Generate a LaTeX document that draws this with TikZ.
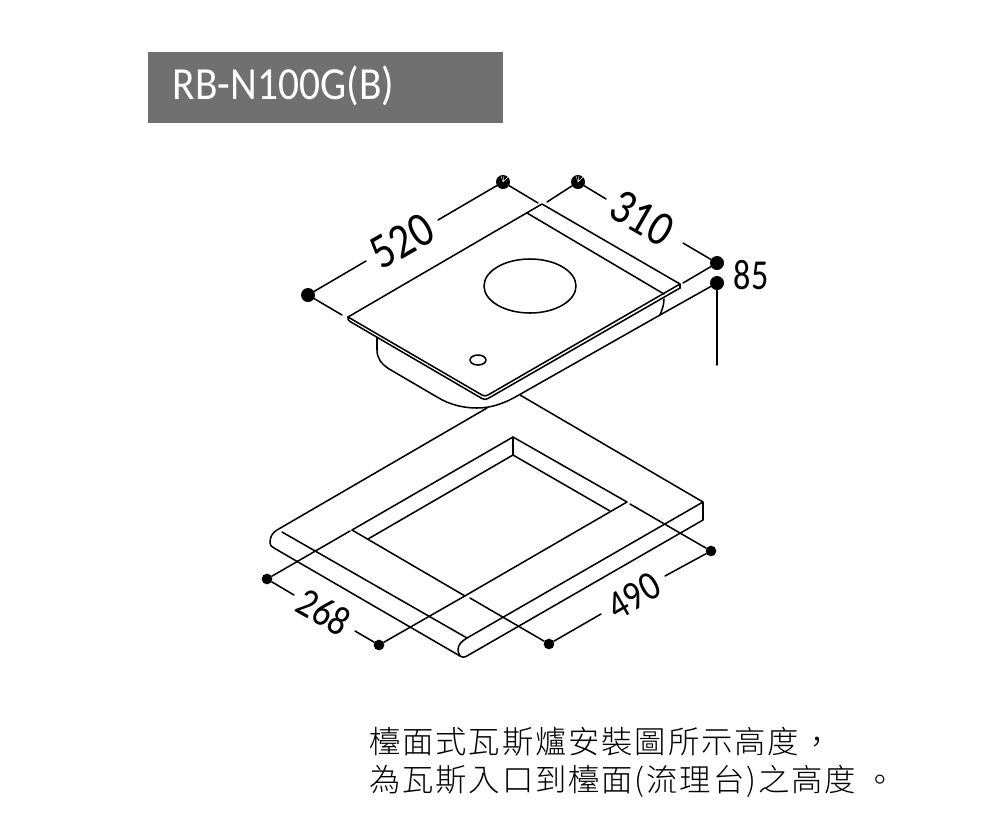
\documentclass[tikz,border=0pt]{standalone}
\usepackage{fontspec}
\setmainfont{Carlito}
\newfontfamily\numf[FakeStretch=.86]{Carlito}
\newfontfamily\numn[FakeStretch=.8]{Carlito}
\newfontfamily\titlef[FakeStretch=.9]{Carlito}
\newfontfamily\cjk[LetterSpace=6]{Noto Sans CJK TC Light}
\tikzset{
  ln/.style={line width=1.15pt,black,line join=round,line cap=round},
  dot/.style={circle,fill=black,inner sep=0pt,minimum size=#1},
  dim/.style={inner sep=0pt,font=\numf\fontsize{37}{40}\selectfont},
  dims/.style={inner sep=0pt,font=\numf\fontsize{31}{34}\selectfont},
  note/.style={anchor=west,inner sep=0pt,font=\cjk\fontsize{23.5}{27}\selectfont},
  tick/.style={white,line width=.35pt}
}
\begin{document}
\begin{tikzpicture}[x=0.75pt,y=-0.75pt]
\useasboundingbox (0,0) rectangle (1000,833);
\fill[white] (0,0) rectangle (1000,833);
% header
\fill[fill=black!56] (148,52) rectangle (503,123);
\node[inner sep=0pt,text=white,font=\titlef\fontsize{34.5}{36}\selectfont] (title) at (283.5,86) {RB-N100G(B)};
% dots
\node[dot=10.5pt] (a1) at (308,295) {};
\node[dot=10.5pt] (a2) at (503,182) {};
\node[dot=10.5pt] (b1) at (578,182) {};
\node[dot=10.5pt] (b2) at (717,263) {};
\node[dot=10.5pt] (c1) at (717,283) {};
\node[dot=8pt] (d1) at (267,579) {};
\node[dot=8pt] (d2) at (379,645) {};
\node[dot=8pt] (e1) at (711,551) {};
\node[dot=8pt] (e2) at (549,644) {};
\draw[tick] (503,182) -- (501,176) (503,182) -- (504,176) (503,182) -- (508,177);
\draw[tick] (578,182) -- (576,176) (578,182) -- (579,176) (578,182) -- (583,177);
% labels
\node[dim,rotate=30] (t520) at (402,241) {520};
\node[dim,rotate=-30] (t310) at (642,218) {310};
\node[inner sep=0pt,font=\numn\fontsize{32}{34}\selectfont] (t85) at (751,275) {85};
\node[dims,rotate=-30] (t268) at (324,612) {268};
\node[dims,rotate=30] (t490) at (634,596) {490};
% dimension lines
\draw[ln] (a1) -- (366,261) (438,220) -- (a2);
\draw[ln] (a1) -- (342,315) (a2) -- (538,203);
\draw[ln] (b1) -- (547,202) (b1) -- (606,199) (683,243) -- (b2);
\draw[ln] (b2) -- (683,283) (c1) -- (660,315) (c1) -- (717,365);
\draw[ln] (d1) -- (294,595) (355,631) -- (d2);
\draw[ln] (d1) -- (350,531) (d2) -- (463,597);
\draw[ln] (e1) -- (630,504) (e2) -- (470,598);
\draw[ln] (e2) -- (601,614) (665,576) -- (e1);
% hob glass
\draw[ln] (348,317) -- (542,204) -- (680,284) -- (680,288);
\draw[ln] (527,213) -- (664,294);
\draw[ln] (348,317) -- (482,395) .. controls (484,396.2) and (486,396.2) .. (488,395) -- (680,284);
\draw[ln] (348,317) .. controls (347.5,319) and (348,320) .. (350,321.5) -- (482,398.5) .. controls (484,399.7) and (486,399.7) .. (488,398.5) -- (680,288);
\draw[ln] (530,286) ellipse[x radius=46,y radius=27];
\draw[ln] (478,360) ellipse[x radius=8,y radius=5];
% hob body
\draw[ln] (377,338) -- (377,350) .. controls (377,358) and (381,364) .. (390,369.5) -- (437,397)
  .. controls (450,405) and (464,408) .. (477,408) .. controls (492,408) and (505,403) .. (518,395.5) -- (660,315)
  .. controls (662,310) and (664,305) .. (664,299);
% counter outer
\draw[ln] (487,408) -- (277,530) .. controls (272,533) and (270,537) .. (270,543) .. controls (270,545) and (271,546.5) .. (274,548)
  -- (460,656) .. controls (462,657.5) and (464,657.5) .. (466,656.5) -- (703,520) -- (703,502) -- (520,395);
\draw[ln] (703,502) -- (467,638) .. controls (461,641.5) and (458,645) .. (458,650) .. controls (458,652) and (459,654) .. (460,656);
\draw[ln] (282,532) -- (467,638);
% cutout
\draw[ln] (352,530) -- (513,437) -- (627,502) -- (463,597);
\draw[ln] (352,530) -- (465,596);
\draw[ln] (368,539) -- (513,455) -- (610,511);
\draw[ln] (513,437) -- (513,455);
% note
\node[note] (n1) at (369,742) {檯面式瓦斯爐安裝圖所示高度，};
\node[note] (n2) at (369,781) {為瓦斯入口到檯面(流理台)之高度 。};
\end{tikzpicture}
\end{document}
